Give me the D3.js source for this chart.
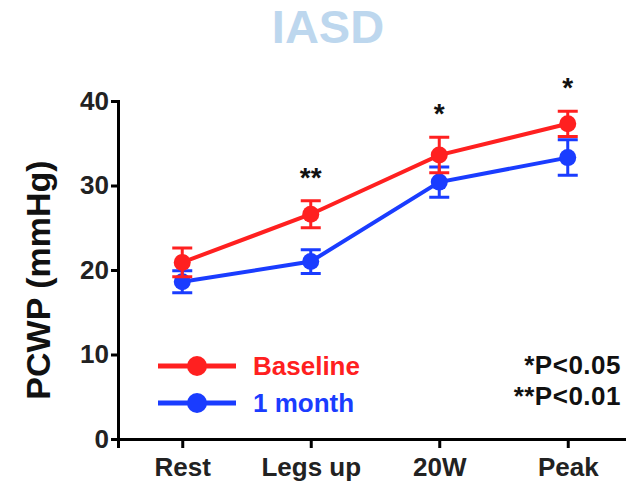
<!doctype html>
<html lang='en'>
  <head>
    <meta charset="utf-8">
    <script src="https://d3js.org/d3.v7.min.js"></script>
    <title>IASD - PCWP</title>
  <style>
  body {
    margin: 0;
    background-color: white;
  }

  svg text {
    font-family: "Liberation Sans", Arial, sans-serif;
    font-weight: bold;
  }

  .axis path, .axis line {
    stroke: #000;
    stroke-width: 3px;
  }

  .axis text {
    font-size: 26px;
    fill: #222;
  }
  </style>
  </head>

  <body>
    <div id='chart'></div>
    <script>
    // categories and series values (mean and error)
    const stages = ['Rest', 'Legs up', '20W', 'Peak'];
    const baseline = [20.9, 26.6, 33.6, 37.3];
    const baselineErr = [1.7, 1.6, 2.1, 1.5];
    const oneMonth = [18.6, 21.0, 30.4, 33.3];
    const oneMonthErr = [1.3, 1.4, 1.8, 2.1];
    const yTicks = [0, 10, 20, 30, 40];
    const stars = ['', '**', '*', '*'];

    const w = 626;
    const h = 487;

    const svg = d3.select('#chart')
                  .append('svg')
                  .attr('width', w)
                  .attr('height', h);

    const xScale = d3.scalePoint()
                    .domain(stages)
                    .range([118, 632])
                    .padding(0.5);

    const yScale = d3.scaleLinear()
                    .domain([0, 40])
                    .range([439, 101]);

    // title
    svg.append('text')
        .attr('x', 328)
        .attr('y', 43)
        .attr('text-anchor', 'middle')
        .style('font-size', '47px')
        .style('fill', '#bdd7ee')
        .text('IASD');

    // y axis title
    svg.append('text')
        .attr('transform', 'translate(50,280) rotate(-90)')
        .attr('text-anchor', 'middle')
        .style('font-size', '34px')
        .style('fill', '#111')
        .text('PCWP (mmHg)');

    const xAxis = d3.axisBottom(xScale).tickSizeOuter(0).tickSize(9).tickPadding(10);
    const yAxis = d3.axisLeft(yScale).tickValues(yTicks).tickSizeOuter(0).tickSize(7).tickPadding(2);

    svg.append('g')
        .attr('class', 'axis')
        .attr('transform', 'translate(0,' + yScale(0) + ')')
        .call(xAxis);

    svg.append('g')
        .attr('class', 'axis')
        .attr('transform', 'translate(118,0)')
        .call(yAxis);

    const series = [
      {name: '1 month', vals: oneMonth, err: oneMonthErr, color: '#1a3cff'},
      {name: 'Baseline', vals: baseline, err: baselineErr, color: '#ff2020'}
    ];

    const line = d3.line()
                  .x((d, i) => xScale(stages[i]))
                  .y(d => yScale(d));

    series.forEach(s => {
      const g = svg.append('g');
      const pts = s.vals.map((v, i) => ({stage: stages[i], v: v, e: s.err[i]}));

      g.append('path')
        .datum(s.vals)
        .attr('d', line)
        .attr('fill', 'none')
        .attr('stroke', s.color)
        .attr('stroke-width', 4);

      g.selectAll('.bar')
        .data(pts)
        .enter()
        .append('path')
        .attr('d', d => {
          const x = xScale(d.stage);
          const y1 = yScale(d.v + d.e);
          const y0 = yScale(d.v - d.e);
          return 'M' + (x - 10) + ',' + y1 + 'H' + (x + 10) +
                 'M' + x + ',' + y1 + 'V' + y0 +
                 'M' + (x - 10) + ',' + y0 + 'H' + (x + 10);
        })
        .attr('fill', 'none')
        .attr('stroke', s.color)
        .attr('stroke-width', 3);

      g.selectAll('circle')
        .data(pts)
        .enter()
        .append('circle')
        .attr('cx', d => xScale(d.stage))
        .attr('cy', d => yScale(d.v))
        .attr('r', 8.5)
        .attr('fill', s.color);
    });

    // significance stars above the baseline error bars
    svg.selectAll('.star')
        .data(stages)
        .enter()
        .append('text')
        .attr('x', d => xScale(d))
        .attr('y', (d, i) => yScale(baseline[i] + baselineErr[i]) - 14)
        .attr('text-anchor', 'middle')
        .style('font-size', '28px')
        .style('fill', '#111')
        .text((d, i) => stars[i]);

    // legend
    const legend = svg.append('g');
    [series[1], series[0]].forEach((s, i) => {
      const y = 366 + i * 37;
      legend.append('line')
        .attr('x1', 158).attr('x2', 236)
        .attr('y1', y).attr('y2', y)
        .attr('stroke', s.color)
        .attr('stroke-width', 5);
      legend.append('circle')
        .attr('cx', 197).attr('cy', y)
        .attr('r', 10)
        .attr('fill', s.color);
      legend.append('text')
        .attr('x', 253).attr('y', y + 9)
        .style('font-size', '26px')
        .style('fill', s.color)
        .text(s.name);
    });

    // p-value note
    ['*P<0.05', '**P<0.01'].forEach((t, i) => {
      svg.append('text')
        .attr('x', 621)
        .attr('y', 374 + i * 31)
        .attr('text-anchor', 'end')
        .style('font-size', '26px')
        .style('letter-spacing', '0.5px')
        .style('fill', '#111')
        .text(t);
    });
    </script>
  </body>
</html>
